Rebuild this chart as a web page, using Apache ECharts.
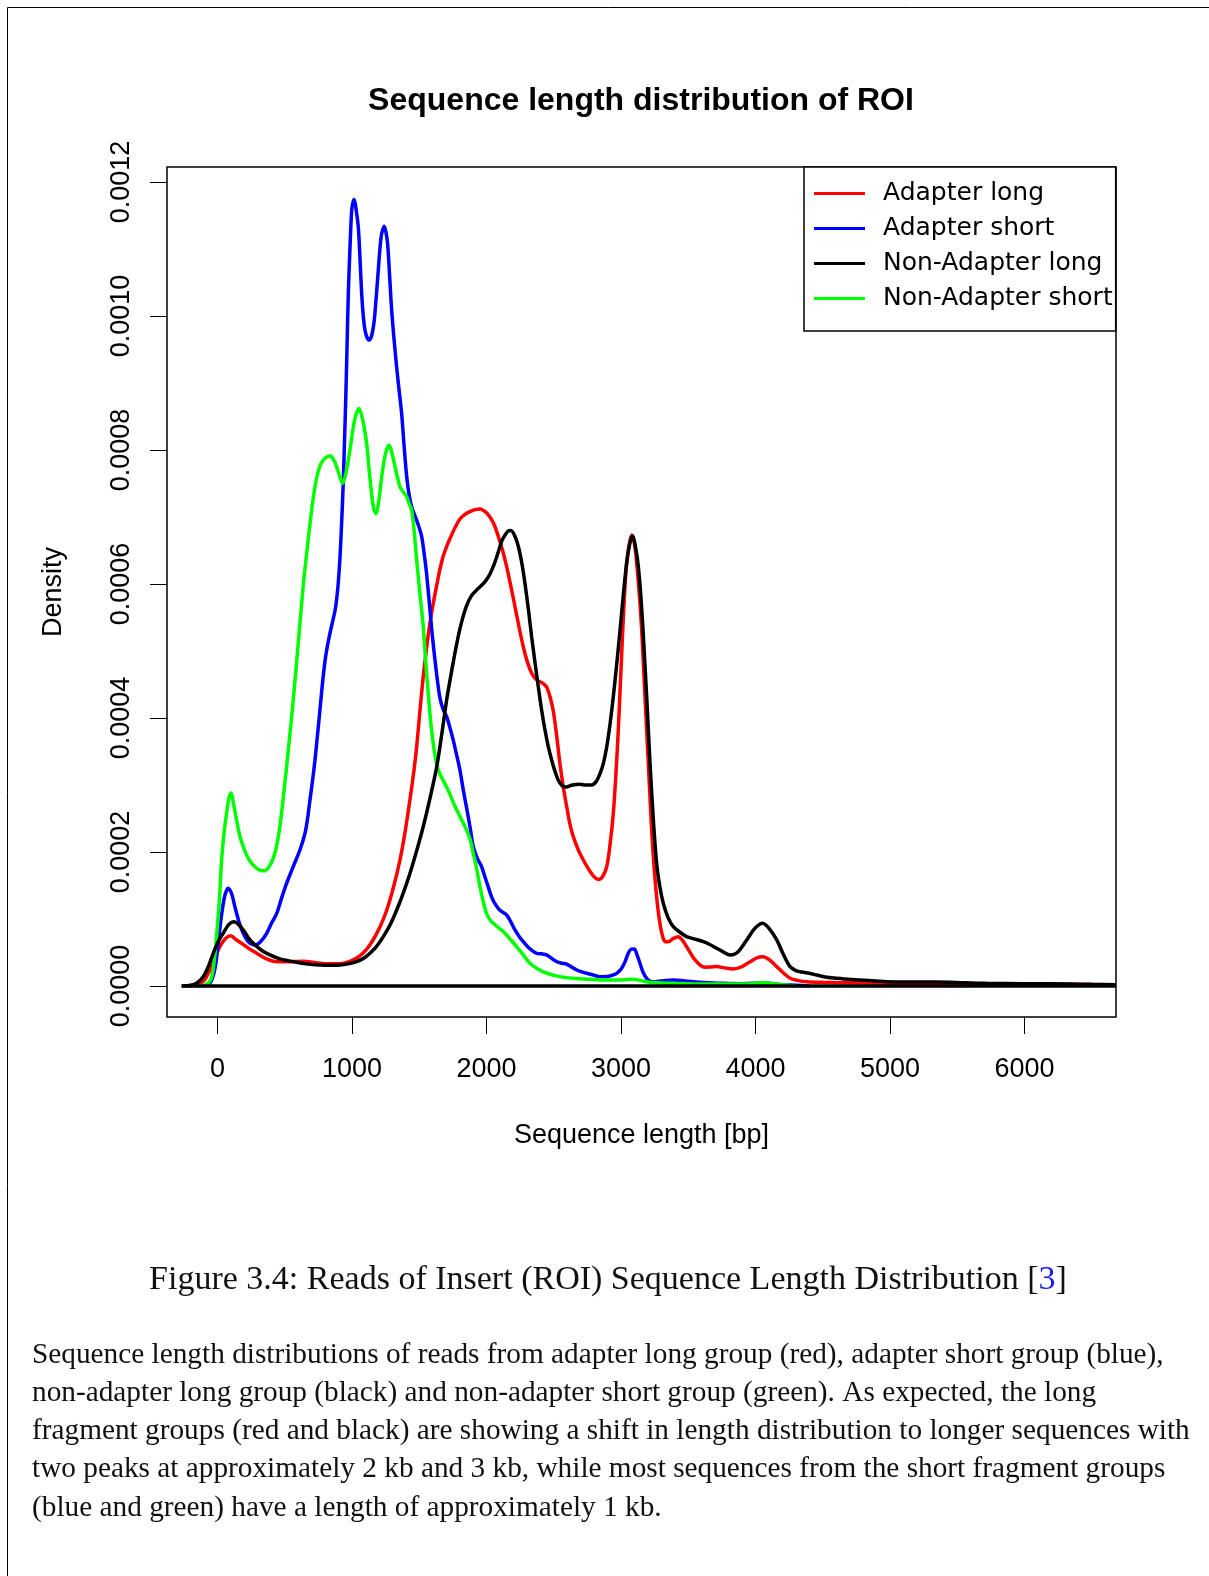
<!DOCTYPE html>
<html>
<head>
<meta charset="utf-8">
<script src="https://cdn.jsdelivr.net/npm/echarts@6/dist/echarts.min.js"></script>
<style>
html,body{margin:0;padding:0;background:#fff;}
#chart{width:1209px;height:1576px;}
</style>
</head>
<body>
<div id="chart"></div>
<script>
// ---------- data ----------
const seriesNames = ['Adapter long', 'Adapter short', 'Non-Adapter long', 'Non-Adapter short'];
const seriesColors = ['#ff0000', '#0000ff', '#000000', '#00ff00'];

const adapterLongX = [-210,-150,-100,-56,-20,19,60,100,140,192,240,291,350,415,500,638,720,812,900,961,1010,1059,1110,1158,1208,1258,1308,1357,1395,1431,1460,1481,1505,1530,1555,1580,1605,1630,1654,1679,1704,1729,1766,1803,1840,1877,1915,1952,1990,2026,2058,2088,2120,2150,2181,2212,2243,2274,2305,2336,2367,2398,2425,2448,2472,2497,2521,2546,2571,2596,2620,2645,2683,2720,2760,2800,2831,2863,2894,2918,2943,2962,2980,2997,3013,3028,3042,3062,3080,3100,3117,3136,3154,3172,3191,3210,3228,3246,3265,3288,3310,3330,3352,3390,3426,3458,3488,3520,3550,3590,3625,3670,3711,3770,3835,3900,3960,4010,4058,4110,4158,4210,4257,4320,4381,4500,4604,4800,5000,5400,5800,6200,6680];
const adapterLongY = [0,0.000002,0.000008,0.000024,0.000042,0.000059,0.000071,0.000075,0.000069,0.000062,0.000055,0.000049,0.000042,0.000037,0.000036,0.000037,0.000035,0.000033,0.000033,0.000035,0.000039,0.000045,0.000055,0.000069,0.000088,0.000113,0.000147,0.000188,0.000230,0.000278,0.000320,0.000357,0.000410,0.000462,0.000505,0.000542,0.000572,0.000598,0.000622,0.000642,0.000656,0.000668,0.000684,0.000697,0.000704,0.000708,0.000711,0.000712,0.000708,0.000700,0.000688,0.000671,0.000650,0.000626,0.000597,0.000566,0.000535,0.000506,0.000483,0.000467,0.000458,0.000454,0.000451,0.000446,0.000432,0.000410,0.000375,0.000332,0.000297,0.000268,0.000242,0.000223,0.000203,0.000188,0.000174,0.000163,0.000159,0.000163,0.000178,0.000210,0.000258,0.000315,0.000382,0.000458,0.000531,0.000590,0.000631,0.000660,0.000673,0.000660,0.000631,0.000585,0.000531,0.000458,0.000382,0.000305,0.000233,0.000178,0.000133,0.000095,0.0000736,0.000066,0.000066,0.000071,0.0000736,0.000068,0.0000587,0.000048,0.0000388,0.000031,0.000028,0.0000285,0.0000289,0.000027,0.0000255,0.000029,0.000036,0.000042,0.0000437,0.000038,0.0000289,0.000019,0.0000115,0.000008,0.0000064,0.0000055,0.000005,0.0000045,0.000004,0.0000035,0.000003,0.0000025,0.000002];

const adapterShortX = [-100,-68,-40,-15,6,30,55,80,105,130,160,192,230,279,320,366,400,440,475,514,563,613,651,670,688,706,725,744,762,780,799,818,836,855,874,886,898,911,923,935,945,955,964,973,985,998,1008,1017,1030,1047,1060,1072,1085,1097,1112,1129,1148,1166,1181,1196,1210,1221,1240,1252,1265,1280,1295,1313,1332,1350,1369,1388,1407,1425,1444,1462,1481,1500,1518,1537,1555,1580,1598,1617,1636,1654,1679,1704,1729,1753,1778,1803,1828,1853,1878,1902,1933,1964,1990,2013,2038,2063,2100,2150,2180,2212,2243,2274,2320,2373,2410,2448,2485,2522,2560,2596,2635,2671,2710,2745,2800,2844,2900,2943,2975,3005,3030,3054,3078,3099,3120,3141,3165,3191,3220,3253,3320,3389,3460,3538,3650,3761,3900,4000,4050,4100,4200,4300,4400];
const adapterShortY = [0,0.000002,0.000010,0.000030,0.0000637,0.000105,0.000135,0.000146,0.000138,0.000118,0.000096,0.0000786,0.000066,0.0000612,0.000066,0.0000786,0.000093,0.000108,0.000130,0.000153,0.000178,0.000203,0.000228,0.000250,0.000278,0.000305,0.000337,0.000375,0.000412,0.000450,0.000484,0.000508,0.000526,0.000543,0.000560,0.000577,0.000601,0.000640,0.000690,0.000750,0.000815,0.000885,0.000960,0.001034,0.001100,0.001158,0.001170,0.001174,0.001160,0.001133,0.001085,0.001034,0.000998,0.000979,0.000968,0.000964,0.000972,0.000994,0.001030,0.001069,0.001105,0.001123,0.001134,0.001126,0.001108,0.001060,0.001009,0.000965,0.000924,0.000890,0.000855,0.000805,0.000760,0.000733,0.000715,0.000705,0.000695,0.000684,0.000671,0.000645,0.000615,0.000561,0.000522,0.000487,0.000455,0.000430,0.000412,0.000402,0.000385,0.000367,0.000345,0.000322,0.000292,0.000265,0.000237,0.000208,0.000190,0.000178,0.000162,0.000148,0.000133,0.000123,0.000113,0.000106,0.000096,0.0000836,0.000074,0.0000661,0.000056,0.0000488,0.000048,0.0000463,0.000041,0.0000363,0.000034,0.0000328,0.000028,0.0000239,0.000021,0.000019,0.000016,0.0000139,0.000014,0.0000164,0.000020,0.0000264,0.000036,0.0000488,0.000055,0.0000552,0.000046,0.0000339,0.000020,0.0000115,0.000007,0.0000064,0.000008,0.000009,0.000008,0.0000064,0.000005,0.000004,0.0000035,0.000004,0.0000045,0.000004,0.000002,0.000001,0];

const nonAdapterLongX = [-266,-200,-155,-106,-70,-31,5,43,85,123,155,192,230,266,330,390,470,564,660,762,850,911,970,1035,1085,1134,1183,1233,1283,1332,1382,1431,1480,1530,1580,1630,1667,1704,1741,1778,1815,1853,1890,1927,1964,1995,2026,2058,2088,2113,2138,2160,2182,2210,2237,2262,2286,2311,2336,2360,2385,2410,2435,2460,2485,2510,2534,2562,2591,2640,2695,2740,2782,2815,2844,2870,2894,2918,2943,2968,2993,3018,3042,3065,3087,3108,3129,3150,3171,3194,3216,3240,3265,3290,3315,3350,3389,3440,3488,3550,3612,3660,3711,3760,3810,3840,3872,3935,3995,4053,4105,4158,4210,4257,4300,4331,4400,4455,4530,4604,4690,4777,4975,5150,5347,5550,5719,6000,6338,6500,6680];
const nonAdapterLongY = [0,0.000001,0.000004,0.0000139,0.000028,0.0000488,0.000066,0.0000787,0.000092,0.000096,0.000092,0.0000836,0.000072,0.0000637,0.000053,0.0000463,0.000040,0.0000363,0.000033,0.0000313,0.000031,0.0000313,0.000033,0.0000363,0.000041,0.0000488,0.000059,0.0000736,0.000091,0.000113,0.000139,0.000168,0.000201,0.000238,0.000280,0.000327,0.000375,0.000427,0.000470,0.000510,0.000543,0.000568,0.000583,0.000591,0.000598,0.000605,0.000615,0.000630,0.000648,0.000664,0.000673,0.000679,0.000680,0.000672,0.000656,0.000632,0.000601,0.000563,0.000521,0.000484,0.000447,0.000412,0.000382,0.000357,0.000337,0.000320,0.000307,0.000299,0.000297,0.000300,0.000301,0.000300,0.000300,0.000305,0.000317,0.000333,0.000357,0.000390,0.000432,0.000480,0.000531,0.000585,0.000631,0.000660,0.000672,0.000655,0.000626,0.000575,0.000506,0.000420,0.000332,0.000250,0.000183,0.000147,0.000123,0.000102,0.0000885,0.000080,0.0000736,0.000070,0.0000661,0.000062,0.0000562,0.000051,0.0000463,0.000047,0.0000512,0.0000687,0.000086,0.0000936,0.000085,0.0000687,0.000046,0.0000289,0.000023,0.0000213,0.000019,0.0000164,0.000013,0.0000115,0.000010,0.000009,0.0000064,0.000006,0.000006,0.000005,0.000004,0.0000035,0.000003,0.0000025,0.000002];

const nonAdapterShortX = [-160,-100,-60,-40,-20,0,15,31,50,68,85,100,123,142,165,192,220,254,304,348,390,427,460,490,527,564,600,638,663,690,712,735,760,787,815,841,865,886,910,931,958,985,1020,1052,1080,1109,1128,1146,1162,1178,1200,1221,1250,1277,1298,1320,1340,1357,1383,1407,1425,1444,1462,1481,1505,1530,1548,1567,1585,1604,1623,1642,1670,1704,1735,1766,1803,1840,1877,1902,1927,1952,1977,2001,2026,2051,2095,2138,2180,2224,2275,2323,2385,2448,2545,2645,2770,2894,3000,3092,3150,3216,3350,3600,3900,4000,4050,4100,4200,4300];
const nonAdapterShortY = [0,0.000001,0.000006,0.000015,0.000045,0.000090,0.000130,0.000188,0.000230,0.000258,0.000280,0.000288,0.000268,0.000248,0.000225,0.000208,0.000194,0.000183,0.000174,0.000172,0.000180,0.000198,0.000232,0.000282,0.000352,0.000428,0.000510,0.000598,0.000645,0.000693,0.000728,0.000756,0.000775,0.000785,0.000790,0.000791,0.000785,0.000775,0.000760,0.000750,0.000768,0.000800,0.000845,0.000862,0.000845,0.000810,0.000770,0.000735,0.000712,0.000705,0.000725,0.000760,0.000795,0.000807,0.000795,0.000775,0.000758,0.000745,0.000737,0.000730,0.000720,0.000710,0.000680,0.000636,0.000586,0.000536,0.000485,0.000437,0.000395,0.000362,0.000338,0.000322,0.000310,0.000297,0.000283,0.000268,0.000253,0.000238,0.000220,0.000198,0.000175,0.000148,0.000125,0.000108,0.000099,0.0000936,0.000086,0.0000787,0.000069,0.0000587,0.000046,0.0000339,0.000025,0.000019,0.000014,0.0000115,0.000010,0.000009,0.000009,0.000010,0.000008,0.0000055,0.000004,0.000003,0.000003,0.000004,0.000005,0.000004,0.000002,0];

const zeroLineX = [-266, 6680];
const zeroLineY = [0, 0];

const xTickValues = [0, 1000, 2000, 3000, 4000, 5000, 6000];
const yTickValues = [0, 0.0002, 0.0004, 0.0006, 0.0008, 0.0010, 0.0012];

const chartTitle = 'Sequence length distribution of ROI';
const xAxisTitle = 'Sequence length [bp]';
const yAxisTitle = 'Density';
const captionText = 'Figure 3.4: Reads of Insert (ROI) Sequence Length Distribution [{ref|3}]';
const paragraphLines = [
  'Sequence length distributions of reads from adapter long group (red), adapter short group (blue),',
  'non-adapter long group (black) and non-adapter short group (green). As expected, the long',
  'fragment groups (red and black) are showing a shift in length distribution to longer sequences with',
  'two peaks at approximately 2 kb and 3 kb, while most sequences from the short fragment groups',
  '(blue and green) have a length of approximately 1 kb.'
];

// ---------- build ----------
function zip(xs, ys) { return xs.map((x, i) => [x, ys[i]]); }
const seriesX = [adapterLongX, adapterShortX, nonAdapterLongX, nonAdapterShortX];
const seriesY = [adapterLongY, adapterShortY, nonAdapterLongY, nonAdapterShortY];
const drawOrder = [0, 1, 3, 2];

const SANS = '"Liberation Sans", Arial, sans-serif';
const SERIF = '"Liberation Serif", "Times New Roman", serif';

const series = drawOrder.map((i, k) => ({
  name: seriesNames[i],
  type: 'line',
  data: zip(seriesX[i], seriesY[i]),
  smooth: 0.3,
  showSymbol: false,
  symbol: 'none',
  color: seriesColors[i],
  lineStyle: { color: seriesColors[i], width: 3.5 },
  z: 2 + k,
  clip: true,
  animation: false
}));
series.push({
  name: 'zero',
  type: 'line',
  data: zip(zeroLineX, zeroLineY),
  showSymbol: false,
  symbol: 'none',
  color: '#000',
  lineStyle: { color: '#000', width: 3.5 },
  z: 10,
  silent: true,
  animation: false
});

const graphics = [
  { type: 'rect', shape: { x: 7.5, y: 7.5, width: 1400, height: 1800 }, style: { fill: 'none', stroke: '#000', lineWidth: 1 }, silent: true },
  { type: 'text', x: 641, y: 101, style: { text: chartTitle, font: 'bold 32px ' + SANS, fill: '#000', textAlign: 'center', textVerticalAlign: 'middle' } },
  { type: 'text', x: 608, y: 1280, style: { text: captionText, font: '34px ' + SERIF, fill: '#111', textAlign: 'center', textVerticalAlign: 'middle', rich: { ref: { fill: '#1a1aff', font: '34px ' + SERIF } } } }
];
const lineYs = [1355, 1393, 1431, 1469, 1508];
paragraphLines.forEach((t, i) => {
  graphics.push({ type: 'text', x: 32, y: lineYs[i], style: { text: t, font: '29.3px ' + SERIF, fill: '#111', textAlign: 'left', textVerticalAlign: 'middle' } });
});

const option = {
  backgroundColor: '#fff',
  animation: false,
  grid: { left: 167, top: 167, width: 949, height: 850, show: true, borderColor: '#000', borderWidth: 1.5, backgroundColor: 'transparent' },
  xAxis: {
    type: 'value', min: -375, max: 6680,
    name: xAxisTitle, nameLocation: 'middle', nameGap: 105,
    nameTextStyle: { fontSize: 27, fontFamily: SANS, color: '#000' },
    axisLine: { show: false, onZero: false },
    splitLine: { show: false },
    axisTick: { show: true, inside: false, length: 17, customValues: xTickValues, lineStyle: { color: '#000', width: 1 } },
    axisLabel: { customValues: xTickValues, margin: 39, fontSize: 27, fontFamily: SANS, color: '#000', formatter: v => String(v) }
  },
  yAxis: {
    type: 'value', min: -0.0000463, max: 0.0012224,
    name: yAxisTitle, nameLocation: 'middle', nameGap: 100,
    nameTextStyle: { fontSize: 27, fontFamily: SANS, color: '#000' },
    axisLine: { show: false, onZero: false },
    splitLine: { show: false },
    axisTick: { show: true, inside: false, length: 17, customValues: yTickValues, lineStyle: { color: '#000', width: 1 } },
    axisLabel: { customValues: yTickValues, rotate: 90, margin: 32, fontSize: 27, fontFamily: SANS, color: '#000', formatter: v => v.toFixed(4) }
  },
  legend: {
    data: seriesNames,
    orient: 'vertical',
    left: 804, top: 167,
    padding: [9, 3, 15, 10],
    itemGap: 0,
    itemWidth: 51, itemHeight: 3,
    icon: 'rect',
    borderColor: '#000', borderWidth: 1.5, backgroundColor: '#fff',
    textStyle: { fontSize: 25, fontFamily: '"DejaVu Sans", sans-serif', color: '#000', lineHeight: 35, padding: [0, 0, 0, 13] },
    selectedMode: false
  },
  graphic: graphics,
  series: series
};

const chart = echarts.init(document.getElementById('chart'), null, { renderer: 'canvas' });
chart.setOption(option);
</script>
</body>
</html>
